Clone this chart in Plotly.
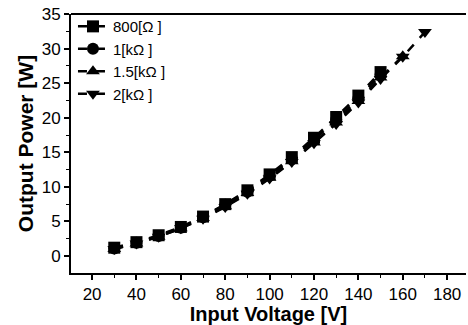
import plotly.graph_objects as go

# Input voltage sweep [V]
v_short = [30, 40, 50, 60, 70, 80, 90, 100, 110, 120, 130, 140, 150]
v_mid = v_short + [160]
v_long = v_mid + [170]

# Output power [W] per load resistance
p_800 = [1.2, 2.0, 3.0, 4.2, 5.7, 7.5, 9.5, 11.8, 14.3, 17.1, 20.1, 23.2, 26.6]
p_1k = [1.1, 1.9, 2.9, 4.1, 5.6, 7.4, 9.3, 11.6, 14.0, 16.8, 19.7, 22.8, 26.2]
p_1k5 = [1.0, 1.8, 2.8, 4.0, 5.5, 7.2, 9.1, 11.3, 13.7, 16.4, 19.3, 22.4, 25.8, 28.9]
p_2k = [1.0, 1.8, 2.8, 4.0, 5.4, 7.1, 9.0, 11.2, 13.6, 16.3, 19.1, 22.2, 25.6, 28.8, 32.4]

names = ["800[Ω ]", "1[kΩ ]", "1.5[kΩ ]", "2[kΩ ]"]
symbols = ["square", "circle", "triangle-up", "triangle-down"]
xs = [v_short, v_short, v_mid, v_long]
ys = [p_800, p_1k, p_1k5, p_2k]

font = "Liberation Sans, Arial, sans-serif"

fig = go.Figure()
for name, sym, x, y in zip(names, symbols, xs, ys):
    fig.add_trace(go.Scatter(
        x=x, y=y, name=name, mode="lines+markers",
        line=dict(color="black", width=2.5, dash="dash"),
        marker=dict(symbol=sym, size=12, color="black"),
    ))

axis_common = dict(
    showline=True, linecolor="black", linewidth=2, mirror=False,
    showgrid=False, zeroline=False,
    ticks="outside", ticklen=5, tickwidth=1.5, tickcolor="black",
    tickfont=dict(family=font, size=17, color="black"),
)

fig.update_layout(
    width=468, height=325,
    margin=dict(l=71, r=2, t=14, b=52),
    paper_bgcolor="white", plot_bgcolor="white",
    font=dict(family=font, color="black"),
    showlegend=True,
    legend=dict(
        x=0.005, y=1.015, xanchor="left", yanchor="top",
        bgcolor="rgba(0,0,0,0)", borderwidth=0,
        font=dict(family=font, size=15, color="black"),
        tracegroupgap=0, itemwidth=30,
    ),
    xaxis=dict(
        **axis_common,
        range=[10.5, 188.5], tickmode="linear", tick0=20, dtick=20,
        minor=dict(ticks="outside", ticklen=3, tickwidth=1.2, dtick=10, tick0=10, tickcolor="black"),
        title=dict(text="<b>Input Voltage [V]</b>", font=dict(family=font, size=20, color="black"), standoff=1),
    ),
    yaxis=dict(
        **axis_common,
        range=[-2.46, 35], tickmode="linear", tick0=0, dtick=5,
        minor=dict(ticks="outside", ticklen=3, tickwidth=1.2, dtick=2.5, tick0=0, tickcolor="black"),
        title=dict(text="<b>Output Power [W]</b>", font=dict(family=font, size=21, color="black"), standoff=2),
    ),
)

# Top frame line
fig.add_shape(type="line", xref="paper", yref="paper", x0=0, x1=1, y0=1, y1=1,
              line=dict(color="black", width=2))

fig.write_html("out.html")
